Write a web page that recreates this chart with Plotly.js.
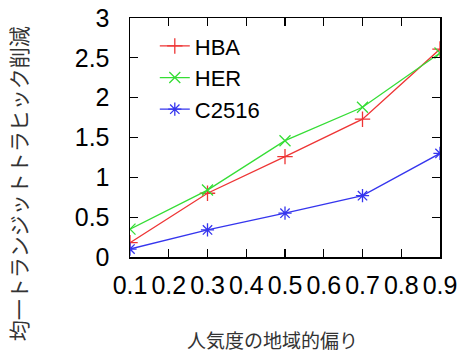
<!DOCTYPE html>
<html>
<head>
<meta charset="utf-8">
<script src="https://cdn.plot.ly/plotly-3.0.1.min.js"></script>
<style>html,body{margin:0;padding:0;background:#fff;}#chart{width:461px;height:354px;}</style>
</head>
<body>
<div id="chart"></div>
<script>
const xValues = [0.1, 0.3, 0.5, 0.7, 0.9];
const hbaValues = [0.18, 0.80, 1.26, 1.73, 2.61];
const herValues = [0.35, 0.84, 1.46, 1.88, 2.56];
const c2516Values = [0.10, 0.34, 0.55, 0.77, 1.30];
const seriesNames = ["HBA", "HER", "C2516"];
const xTitle = "人気度の地域的偏り";
const yTitle = "均一トランジットトラヒック削減";

const traces = [
  {x: xValues, y: hbaValues, name: seriesNames[0], mode: "lines+markers",
   line: {color: "#ee3535", width: 1.3},
   marker: {symbol: "cross-thin-open", size: 11, color: "#ee3535", line: {color: "#ee3535", width: 1.3}}},
  {x: xValues, y: herValues, name: seriesNames[1], mode: "lines+markers",
   line: {color: "#35dd35", width: 1.3},
   marker: {symbol: "x-thin-open", size: 11, color: "#35dd35", line: {color: "#35dd35", width: 1.3}}},
  {x: xValues, y: c2516Values, name: seriesNames[2], mode: "lines+markers",
   line: {color: "#3535ee", width: 1.3},
   marker: {symbol: "asterisk-open", size: 11, color: "#3535ee", line: {color: "#3535ee", width: 1.3}}}
];

const axisCommon = {
  showline: true, linecolor: "#000", linewidth: 1.5, mirror: "allticks",
  ticks: "inside", ticklen: 8, tickwidth: 1.2, tickcolor: "#000",
  showgrid: false, zeroline: false,
  tickfont: {family: "Liberation Sans, Arial, sans-serif", size: 25, color: "#000"}
};

const layout = {
  width: 461, height: 354,
  margin: {l: 130, r: 21, t: 18, b: 97},
  paper_bgcolor: "#fff", plot_bgcolor: "#fff",
  showlegend: true,
  legend: {x: 0.08, y: 0.97, xanchor: "left", yanchor: "top",
           bgcolor: "rgba(0,0,0,0)", font: {family: "Liberation Sans, Arial, sans-serif", size: 22, color: "#000"},
           tracegroupgap: 0},
  xaxis: Object.assign({}, axisCommon, {range: [0.1, 0.9], dtick: 0.1, tick0: 0.1, ticklabelstandoff: 5}),
  yaxis: Object.assign({}, axisCommon, {range: [0, 3], dtick: 0.5, tick0: 0, ticklabelstandoff: 14}),
  annotations: [
    {text: xTitle, xref: "paper", yref: "paper", x: 0.461, y: -0.345, showarrow: false,
     xanchor: "center", yanchor: "middle",
     font: {family: "Noto Sans CJK JP, sans-serif", size: 19, color: "#333"}},
    {text: yTitle, xref: "paper", yref: "paper", x: -0.361, y: 0.305, showarrow: false,
     xanchor: "center", yanchor: "middle", textangle: -90,
     font: {family: "Noto Sans CJK JP, sans-serif", size: 21, color: "#333"}}
  ]
};

Plotly.newPlot("chart", traces, layout, {displayModeBar: false, staticPlot: true});
</script>
</body>
</html>
